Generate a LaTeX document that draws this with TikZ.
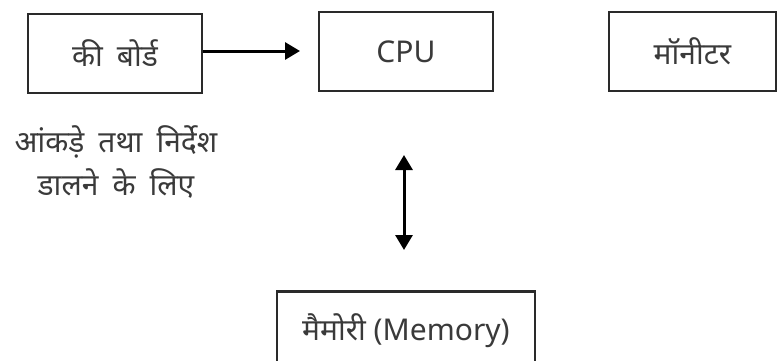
\documentclass[tikz,border=0pt]{standalone}
\usepackage{fontspec}
\setmainfont[Script=Devanagari,WordSpace=1.8]{Noto Sans}
\usetikzlibrary{arrows.meta}
\definecolor{ink}{HTML}{2A2A2A}
\definecolor{txt}{HTML}{3A3A3A}
\tikzset{
  unitbox/.style={draw=ink, line width=2.6pt, minimum height=79pt,
    inner sep=0pt, text=txt, font=\fontsize{30}{36}\selectfont},
  flow/.style={line width=3pt, draw=black,
    -{Triangle[length=15pt,width=17pt]}},
  both/.style={line width=3pt, draw=black,
    {Triangle[length=15pt,width=17pt]}-{Triangle[length=15pt,width=17pt]}},
}
\begin{document}
\begin{tikzpicture}[x=1pt,y=-1pt]
  \useasboundingbox (0,0) rectangle (777,360);
  \clip (0,0) rectangle (777,360);
  \fill[white] (0,0) rectangle (777,360);

  % units
  \node[unitbox, minimum width=174pt] (kb)  at (115,53.5) {की बोर्ड};
  \node[unitbox, minimum width=174pt] (cpu) at (406,51.5) {CPU};
  \node[unitbox, minimum width=167pt] (mon) at (692.5,51.5) {मॉनीटर};
  \node[unitbox, minimum width=258pt] (mem) at (406,331)
    {मैमोरी\hspace{0.26em}(Memory)};

  % caption under the keyboard
  \node[text=txt, align=center, font=\fontsize{30}{43}\selectfont] (cap)
    at (116,162) {आंकड़े तथा निर्देश\\डालने के लिए};

  % connectors
  \coordinate (kbend) at (300,51);
  \draw[flow] (kb.east |- kbend) -- (kbend);
  \coordinate (memtop) at (404,155);
  \coordinate (membot) at (404,250);
  \draw[both] (memtop) -- (membot);
\end{tikzpicture}
\end{document}
